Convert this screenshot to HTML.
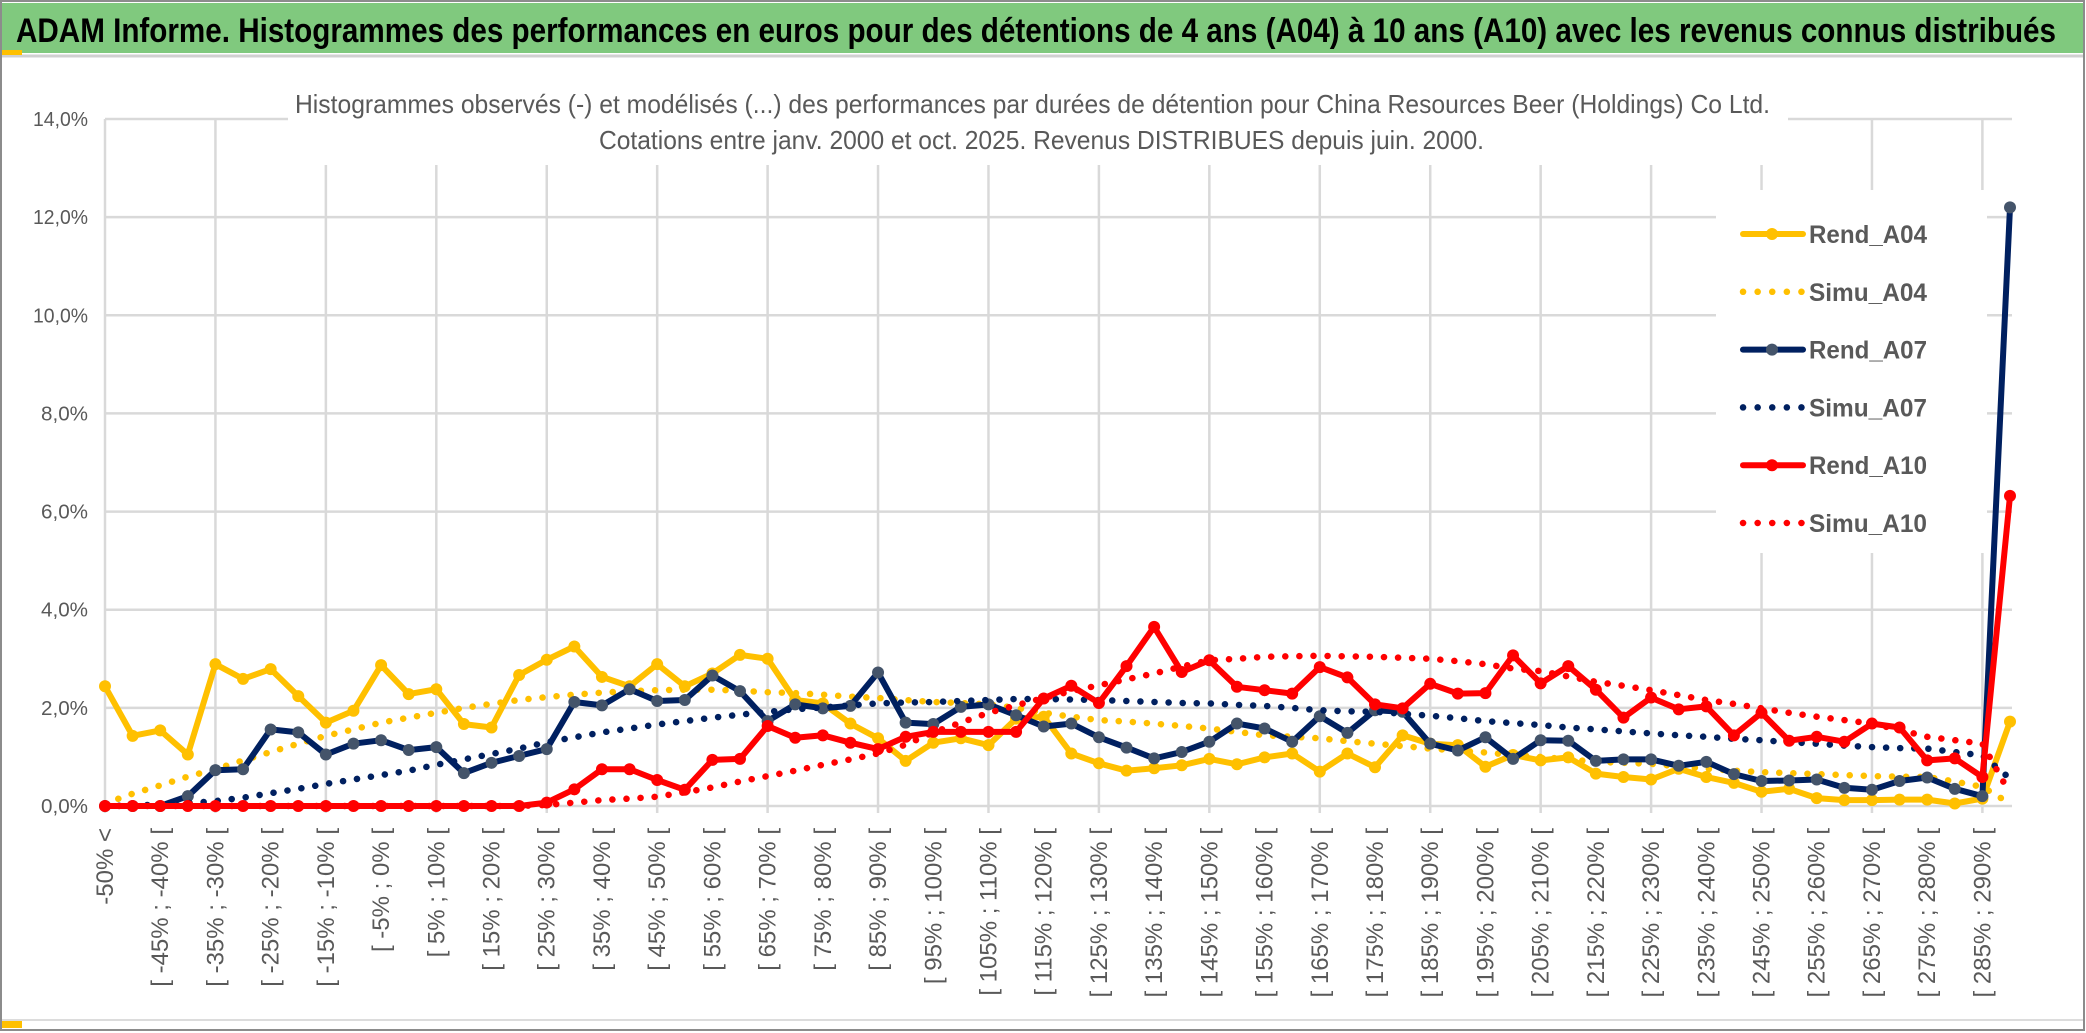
<!DOCTYPE html>
<html><head><meta charset="utf-8"><style>
html,body{margin:0;padding:0;background:#fff;}
svg{display:block;font-family:"Liberation Sans",sans-serif;}
</style></head><body>
<svg id="chart" width="2086" height="1033" viewBox="0 0 2086 1033" xmlns="http://www.w3.org/2000/svg">
<rect x="0" y="0" width="2086" height="1033" fill="#fff"/>
<rect x="1" y="1" width="2083" height="1029" fill="none" stroke="#8c8c8c" stroke-width="2"/>
<rect x="2" y="3" width="2081" height="50" fill="#80c97e"/>
<line x1="2" y1="56" x2="2083" y2="56" stroke="#d0d0d0" stroke-width="3"/>
<rect x="2" y="50" width="20" height="5" fill="#ffc000"/>
<rect x="2" y="1021" width="20" height="7" fill="#ffc000"/>
<line x1="2" y1="1020" x2="2083" y2="1020" stroke="#dcdcdc" stroke-width="2"/>
<text x="16" y="42" font-size="34" font-weight="bold" fill="#000" textLength="2040" lengthAdjust="spacingAndGlyphs">ADAM Informe. Histogrammes des performances en euros pour des détentions de 4 ans (A04) à 10 ans (A10) avec les revenus connus distribués</text>
<g id="grid"></g>
<g id="yaxis"></g>
<g id="xaxis"></g>
<rect x="288" y="70" width="1500" height="95" fill="#fff"/>
<text x="295" y="113" font-size="26" fill="#595959" textLength="1475" lengthAdjust="spacingAndGlyphs">Histogrammes observés (-) et modélisés (...) des performances par durées de détention pour China Resources Beer (Holdings) Co Ltd.</text>
<text x="599" y="149" font-size="26" fill="#595959" textLength="885" lengthAdjust="spacingAndGlyphs">Cotations entre janv. 2000 et oct. 2025. Revenus DISTRIBUES depuis juin. 2000.</text>
<rect x="1716" y="190" width="271" height="363" fill="#fff"/>
<g id="series"></g>
<g id="legend"></g>
</svg>
<script>
const yTicks = [0, 2, 4, 6, 8, 10, 12, 14];
const yTickLabels = ["0,0%", "2,0%", "4,0%", "6,0%", "8,0%", "10,0%", "12,0%", "14,0%"];
const rendA04 = [2.44,1.43,1.54,1.05,2.89,2.59,2.79,2.24,1.70,1.94,2.87,2.28,2.38,1.67,1.60,2.67,2.98,3.25,2.63,2.44,2.89,2.44,2.70,3.08,3.0,2.16,2.09,1.68,1.38,0.92,1.29,1.38,1.24,1.78,1.82,1.07,0.87,0.72,0.77,0.83,0.96,0.85,0.99,1.07,0.70,1.07,0.79,1.44,1.27,1.24,0.80,1.04,0.93,0.99,0.66,0.59,0.54,0.76,0.59,0.47,0.29,0.35,0.16,0.12,0.12,0.13,0.13,0.05,0.15,1.72];
const simuA04 = [0.05,0.25,0.42,0.6,0.75,0.93,1.1,1.27,1.43,1.56,1.7,1.8,1.9,2.0,2.08,2.16,2.22,2.27,2.31,2.34,2.36,2.37,2.37,2.35,2.32,2.3,2.27,2.23,2.2,2.16,2.12,2.1,2.07,2.0,1.9,1.82,1.75,1.72,1.68,1.63,1.58,1.51,1.44,1.41,1.38,1.32,1.27,1.22,1.17,1.13,1.09,1.04,1.0,0.95,0.9,0.88,0.86,0.81,0.76,0.72,0.69,0.67,0.65,0.63,0.61,0.6,0.59,0.5,0.39,0.05];
const rendA07 = [0,0,0,0.2,0.73,0.75,1.56,1.50,1.05,1.27,1.34,1.14,1.2,0.67,0.88,1.02,1.16,2.12,2.05,2.38,2.14,2.16,2.66,2.34,1.73,2.07,1.99,2.04,2.72,1.70,1.67,2.02,2.07,1.85,1.62,1.68,1.40,1.19,0.97,1.1,1.31,1.68,1.58,1.31,1.83,1.49,1.95,1.92,1.27,1.13,1.40,0.96,1.34,1.33,0.92,0.95,0.95,0.82,0.9,0.65,0.51,0.52,0.54,0.37,0.33,0.51,0.58,0.35,0.2,12.2];
const simuA07 = [0,0.01,0.03,0.06,0.1,0.17,0.26,0.35,0.45,0.54,0.63,0.72,0.84,0.95,1.06,1.17,1.3,1.4,1.5,1.58,1.66,1.73,1.8,1.86,1.92,1.97,2.01,2.05,2.09,2.11,2.12,2.14,2.16,2.18,2.18,2.17,2.16,2.14,2.12,2.1,2.09,2.06,2.04,2.0,1.95,1.93,1.92,1.88,1.84,1.79,1.73,1.69,1.65,1.6,1.56,1.52,1.48,1.44,1.41,1.37,1.34,1.3,1.27,1.23,1.2,1.18,1.17,1.1,1.03,0.56];
const rendA10 = [0,0,0,0,0,0,0,0,0,0,0,0,0,0,0,0,0.07,0.34,0.75,0.75,0.53,0.33,0.94,0.96,1.63,1.39,1.44,1.29,1.16,1.41,1.51,1.51,1.51,1.51,2.19,2.45,2.1,2.85,3.65,2.73,2.97,2.43,2.36,2.29,2.83,2.62,2.07,1.99,2.49,2.29,2.3,3.07,2.5,2.85,2.37,1.8,2.21,1.97,2.03,1.44,1.9,1.33,1.41,1.31,1.68,1.6,0.93,0.97,0.59,6.32];
const simuA10 = [0,0,0,0,0,0,0,0,0,0,0,0,0,0,0,0,0.02,0.07,0.12,0.15,0.19,0.28,0.38,0.5,0.61,0.72,0.84,0.95,1.07,1.25,1.5,1.7,1.9,2.05,2.2,2.34,2.46,2.58,2.7,2.84,2.97,3.0,3.04,3.05,3.06,3.05,3.04,3.02,3.0,2.95,2.89,2.8,2.75,2.64,2.53,2.45,2.36,2.26,2.16,2.08,1.99,1.9,1.82,1.75,1.68,1.55,1.41,1.34,1.27,0.25];
const categories = ["-50% <"];
for (let lo = -50; lo < 290; lo += 5) categories.push("[ " + lo + "% ; " + (lo + 5) + "% [");
categories.push("> 290%");

const NS = "http://www.w3.org/2000/svg";
const X0 = 105, X1 = 2010, Y0 = 806, Y14 = 119;
const n = categories.length;
function xPos(i) { return X0 + (X1 - X0) * i / (n - 1); }
function yPos(v) { return Y0 - (Y0 - Y14) * v / 14; }
function mk(tag, attrs, parent) {
  const e = document.createElementNS(NS, tag);
  for (const k in attrs) e.setAttribute(k, attrs[k]);
  parent.appendChild(e);
  return e;
}
const grid = document.getElementById('grid');
yTicks.forEach((t, k) => {
  const l = mk('line', {x1: X0, x2: 2012, y1: yPos(t), y2: yPos(t), stroke: '#d9d9d9', 'stroke-width': 2.5}, grid);
  
  
});
for (let i = 0; i < n; i += 4) {
  const l = mk('line', {x1: xPos(i), x2: xPos(i), y1: yPos(14), y2: Y0 + 7, stroke: '#d9d9d9', 'stroke-width': 2.5}, grid);
  
  
}
const yaxis = document.getElementById('yaxis');
yTicks.forEach((t, k) => {
  const tx = mk('text', {x: 88, y: yPos(t) + 7, 'font-size': 20, fill: '#595959', 'text-anchor': 'end', textLength: t >= 10 ? 55 : 47, lengthAdjust: 'spacingAndGlyphs'}, yaxis);
  
  
  tx.textContent = yTickLabels[k];
});
const xaxis = document.getElementById('xaxis');
for (let i = 0; i < n - 1; i += 2) {
  const x = xPos(i) + 8, y = 828;
  const tx = mk('text', {x: x, y: y, 'font-size': 24, fill: '#595959', 'text-anchor': 'end', transform: 'rotate(-90 ' + x + ' ' + y + ')'}, xaxis);
  
  
  tx.textContent = categories[i];
}
const series = document.getElementById('series');
function pts(arr) { return arr.map((v, i) => xPos(i).toFixed(1) + ',' + yPos(v).toFixed(1)).join(' '); }
function drawRend(arr, color, marker, name) {
  const g = mk('g', {}, series);
  
  
  const pl = mk('polyline', {points: pts(arr), fill: 'none', stroke: color, 'stroke-width': 6, 'stroke-linejoin': 'round'}, g);
  
  
  arr.forEach((v, i) => {
    const c = mk('circle', {cx: xPos(i), cy: yPos(v), r: 6, fill: marker}, g);
    
    
  });
}
function drawSimu(arr, color, name) {
  const pl = mk('polyline', {points: pts(arr), fill: 'none', stroke: color, 'stroke-width': 6.5, 'stroke-linecap': 'round', 'stroke-dasharray': '0.1 14'}, series);
  
  
}
drawRend(rendA04, '#ffc000', '#ffc000', 'rend-a04');
drawSimu(simuA04, '#ffc000', 'simu-a04');
drawRend(rendA07, '#002060', '#44546a', 'rend-a07');
drawSimu(simuA07, '#002060', 'simu-a07');
drawRend(rendA10, '#ff0000', '#ff0000', 'rend-a10');
drawSimu(simuA10, '#ff0000', 'simu-a10');

const legendNames = ["Rend_A04", "Simu_A04", "Rend_A07", "Simu_A07", "Rend_A10", "Simu_A10"];
const legendColors = ["#ffc000", "#ffc000", "#002060", "#002060", "#ff0000", "#ff0000"];
const legendMarkers = ["#ffc000", null, "#44546a", null, "#ff0000", null];
const legend = document.getElementById('legend');
legendNames.forEach((nm, k) => {
  const cy = 234 + k * 57.8;
  const g = mk('g', {}, legend);
  
  
  if (legendMarkers[k]) {
    mk('line', {x1: 1743, x2: 1803, y1: cy, y2: cy, stroke: legendColors[k], 'stroke-width': 6, 'stroke-linecap': 'round'}, g);
    mk('circle', {cx: 1772, cy: cy, r: 6, fill: legendMarkers[k]}, g);
  } else {
    mk('line', {x1: 1743, x2: 1803, y1: cy, y2: cy, stroke: legendColors[k], 'stroke-width': 6.5, 'stroke-linecap': 'round', 'stroke-dasharray': '0.1 14.5'}, g);
  }
  const t = mk('text', {x: 1809, y: cy + 9, 'font-size': 25, 'font-weight': 'bold', fill: '#595959', textLength: 118, lengthAdjust: 'spacingAndGlyphs'}, g);
  t.textContent = nm;
});
</script>
</body></html>
